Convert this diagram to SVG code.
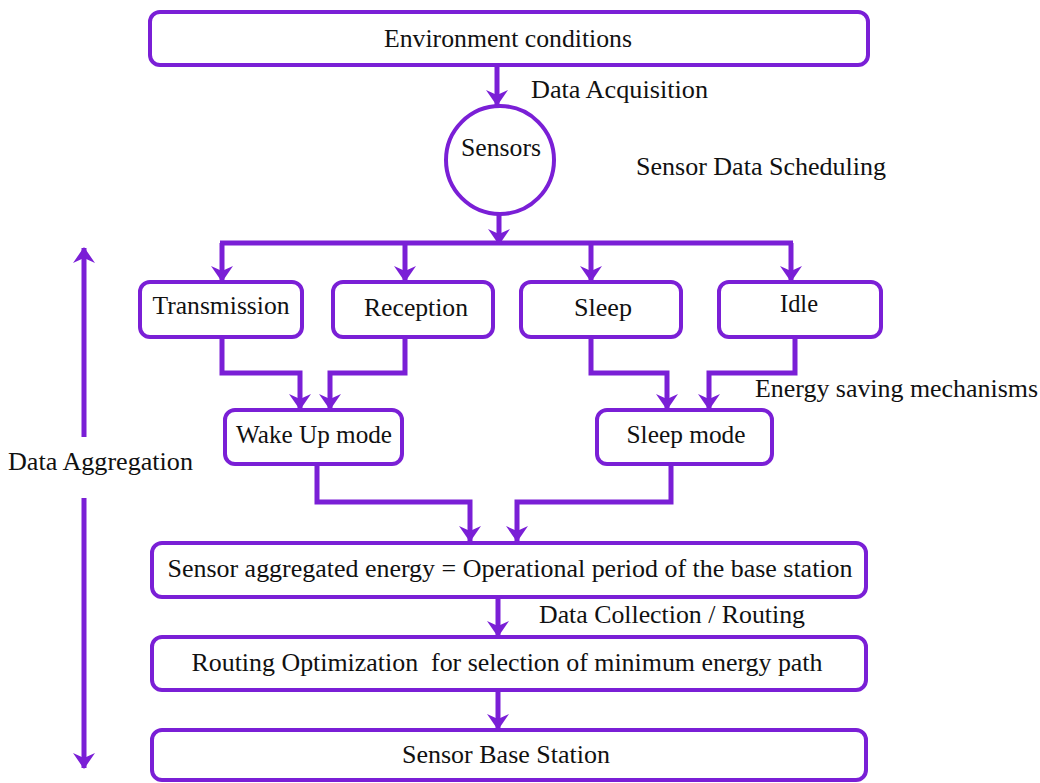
<svg xmlns="http://www.w3.org/2000/svg" width="1040" height="783" viewBox="0 0 1040 783">
  <style>
    .box { fill: #ffffff; stroke: #7a1fd6; stroke-width: 4; }
    .wire { fill: none; stroke: #7a1fd6; stroke-width: 5; stroke-linejoin: miter; }
    .arr { marker-end: url(#head); }
    text { font-family: "Liberation Serif", "Times New Roman", serif; font-size: 25px; fill: #111; }
    .c { text-anchor: middle; }
  </style>
  <defs>
    <marker id="head" viewBox="0 0 16 22" refX="15" refY="11" markerWidth="16" markerHeight="22" markerUnits="userSpaceOnUse" orient="auto">
      <path d="M0,0 L16,11 L0,22 L5,11 z" fill="#7a1fd6"/>
    </marker>
  </defs>

  <rect width="1040" height="783" fill="#ffffff"/>

  <!-- connectors -->
  <g id="connectors">
    <path class="wire arr" d="M497,65 V105"/>
    <path class="wire arr" d="M499,214 V244"/>
    <path class="wire" d="M220,243 H793"/>
    <path class="wire arr" d="M222,243 V281"/>
    <path class="wire arr" d="M405,243 V281"/>
    <path class="wire arr" d="M591,243 V281"/>
    <path class="wire arr" d="M791,243 V281"/>
    <path class="wire arr" d="M222,337 V373 H300 V409"/>
    <path class="wire arr" d="M405,337 V373 H330 V409"/>
    <path class="wire arr" d="M591,337 V373 H667 V409"/>
    <path class="wire arr" d="M795,337 V373 H709 V409"/>
    <path class="wire arr" d="M317,464 V502 H470 V541"/>
    <path class="wire arr" d="M671,464 V502 H517 V541"/>
    <path class="wire arr" d="M498,597 V636"/>
    <path class="wire arr" d="M498,690 V729"/>
    <path class="wire arr" d="M84,437 V248"/>
    <path class="wire arr" d="M84,498 V768"/>
  </g>

  <g id="environment">
    <rect class="box" x="150" y="12" width="718" height="53" rx="10"/>
    <text class="c" x="508" y="47" textLength="248" lengthAdjust="spacingAndGlyphs">Environment conditions</text>
  </g>

  <g id="sensors">
    <circle class="box" cx="500" cy="160" r="54"/>
    <text class="c" x="501" y="156" textLength="80" lengthAdjust="spacingAndGlyphs">Sensors</text>
  </g>

  <g id="transmission">
    <rect class="box" x="140" y="282" width="162" height="55" rx="10"/>
    <text class="c" x="221" y="314" textLength="137" lengthAdjust="spacingAndGlyphs">Transmission</text>
  </g>

  <g id="reception">
    <rect class="box" x="333" y="282" width="160" height="55" rx="10"/>
    <text class="c" x="416" y="316" textLength="104" lengthAdjust="spacingAndGlyphs">Reception</text>
  </g>

  <g id="sleep">
    <rect class="box" x="521" y="282" width="160" height="55" rx="10"/>
    <text class="c" x="603" y="316" textLength="58" lengthAdjust="spacingAndGlyphs">Sleep</text>
  </g>

  <g id="idle">
    <rect class="box" x="719" y="282" width="162" height="55" rx="10"/>
    <text class="c" x="799" y="312" textLength="38" lengthAdjust="spacingAndGlyphs">Idle</text>
  </g>

  <g id="wake-up-mode">
    <rect class="box" x="225" y="410" width="177" height="54" rx="10"/>
    <text class="c" x="314" y="443" textLength="156" lengthAdjust="spacingAndGlyphs">Wake Up mode</text>
  </g>

  <g id="sleep-mode">
    <rect class="box" x="597" y="410" width="175" height="54" rx="10"/>
    <text class="c" x="686" y="443" textLength="119" lengthAdjust="spacingAndGlyphs">Sleep mode</text>
  </g>

  <g id="aggregated-energy">
    <rect class="box" x="152" y="543" width="714" height="54" rx="10"/>
    <text class="c" x="510" y="577" textLength="685" lengthAdjust="spacingAndGlyphs">Sensor aggregated energy = Operational period of the base station</text>
  </g>

  <g id="routing-optimization">
    <rect class="box" x="152" y="637" width="714" height="53" rx="10"/>
    <text class="c" x="507" y="671" textLength="631" lengthAdjust="spacingAndGlyphs" xml:space="preserve">Routing Optimization  for selection of minimum energy path</text>
  </g>

  <g id="base-station">
    <rect class="box" x="152" y="730" width="714" height="50" rx="10"/>
    <text class="c" x="506" y="763" textLength="208" lengthAdjust="spacingAndGlyphs">Sensor Base Station</text>
  </g>

  <!-- free labels -->
  <g id="labels">
    <text x="531" y="98" textLength="177" lengthAdjust="spacingAndGlyphs">Data Acquisition</text>
    <text x="636" y="175" textLength="250" lengthAdjust="spacingAndGlyphs">Sensor Data Scheduling</text>
    <text x="755" y="397" textLength="283" lengthAdjust="spacingAndGlyphs">Energy saving mechanisms</text>
    <text x="8" y="470" textLength="185" lengthAdjust="spacingAndGlyphs">Data Aggregation</text>
    <text x="539" y="623" textLength="266" lengthAdjust="spacingAndGlyphs">Data Collection / Routing</text>
  </g>
</svg>
